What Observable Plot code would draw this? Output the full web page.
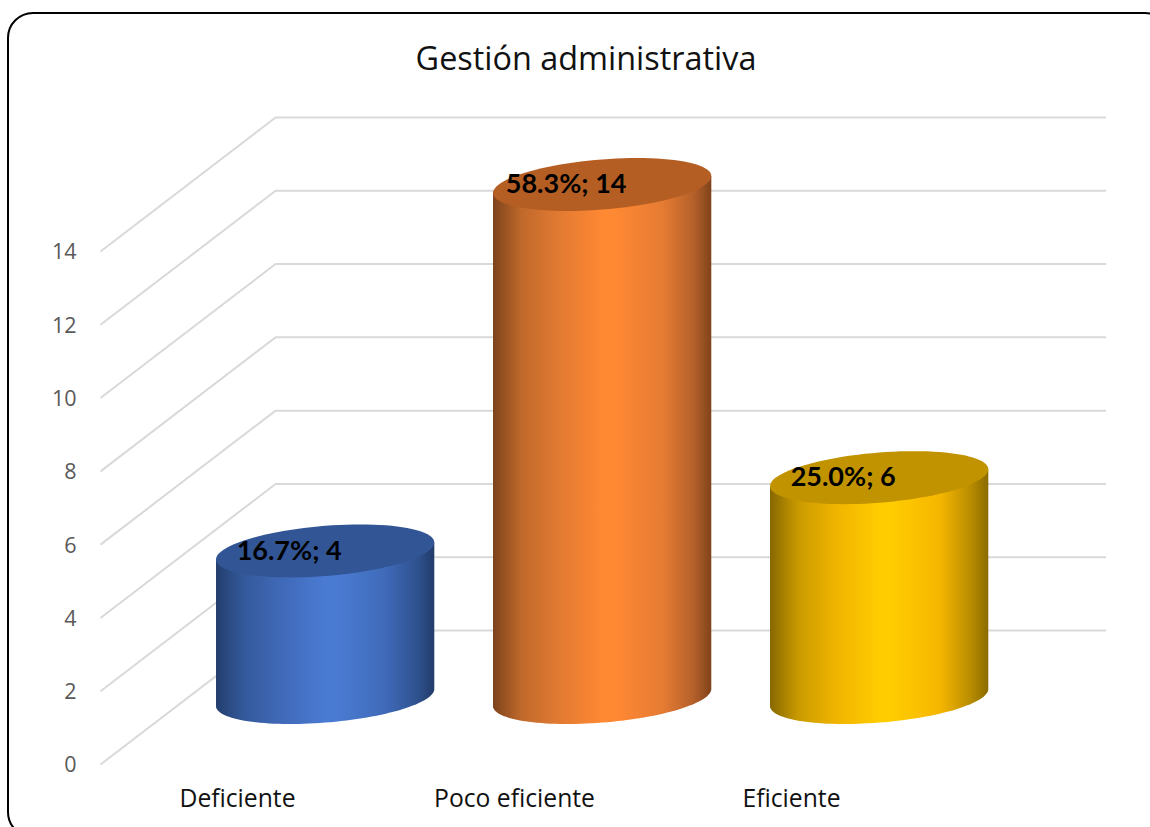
<!DOCTYPE html>
<html lang="es">
<head>
<meta charset="utf-8">
<title>Gestión administrativa</title>
<script src="https://cdn.jsdelivr.net/npm/d3@7"></script>
<script src="https://cdn.jsdelivr.net/npm/@observablehq/plot@0.6"></script>
<style>
  html, body { margin: 0; padding: 0; background: #fff; overflow: hidden; }
  #page { position: relative; width: 1150px; height: 827px; overflow: hidden; font-family: "Open Sans", sans-serif; }
  #frame { position: absolute; left: 7px; top: 12px; width: 1160px; height: 822px; border: 2px solid #000; border-radius: 26px; }
  #title { position: absolute; left: 0; width: 1172px; top: 36px; margin: 0; text-align: center; font-size: 32.4px; line-height: 42px; font-weight: 400; color: #111; }
  #chart { position: absolute; left: 0; top: 0; }
</style>
</head>
<body>
<div id="page">
  <div id="frame"></div>
  <h1 id="title">Gestión administrativa</h1>
  <div id="chart"></div>
</div>
<script>
// Survey results
const categories = ["Deficiente", "Poco eficiente", "Eficiente"];
const counts = [4, 14, 6];
const axisTicks = [0, 2, 4, 6, 8, 10, 12, 14];

// Fill colours per category: lid colour and horizontal shading of the wall
const lidColors = ["#325596", "#b55e24", "#c29300"];
const wallStops = [
  [[0, "#233e6e"], [0.13, "#345a9c"], [0.3, "#4069b8"], [0.5, "#4a7bd2"], [0.56, "#4a7bd2"], [0.78, "#3f6ab8"], [0.92, "#2f5290"], [1, "#223c69"]],
  [[0, "#7d431b"], [0.13, "#c0692b"], [0.3, "#e17a32"], [0.5, "#ff8833"], [0.56, "#ff8833"], [0.78, "#e57b33"], [0.92, "#b4602a"], [1, "#7f431a"]],
  [[0, "#876800"], [0.13, "#c99a00"], [0.3, "#f0b400"], [0.5, "#ffcc00"], [0.56, "#ffcc00"], [0.78, "#f5b600"], [0.92, "#b88c00"], [1, "#8a6b00"]]
];

// Oblique projection, in data units: the back wall sits this far right (x) and up (y)
const depthX = 0.632;
const depthY = 3.657;

// Cylinder cross-section, in data units: half width, half height and tilt
const radiusX = 0.394;
const radiusY = 0.685;
const tilt = 0.232;

const total = d3.sum(counts);
const pct = d3.format(".1%");
const valueLabels = counts.map((c) => `${pct(c / total)}; ${c}`);

const centerX = (i) => i + 0.495 + depthX / 2;
const ellipsePoint = (cx, cy, t) => ({
  x: cx + radiusX * Math.cos(t),
  y: cy + radiusY * Math.sin(t) + tilt * Math.cos(t)
});

// Closed outline of the lid
const lidOutline = (i) => {
  const cy = depthY / 2 + counts[i];
  return d3.range(0, 97).map((s) => ellipsePoint(centerX(i), cy, (s / 96) * 2 * Math.PI));
};

// Wall outline: the two top corners, then the lower arc of the base
const wallOutline = (i) => {
  const cx = centerX(i);
  const floorY = depthY / 2;
  const arc = d3.range(0, 65).map((s) => ellipsePoint(cx, floorY, -(s / 64) * Math.PI));
  return [
    ellipsePoint(cx, floorY + counts[i], 0),
    ...arc,
    ellipsePoint(cx, floorY + counts[i], -Math.PI)
  ];
};

// Gradient definitions used by the cylinder walls
const gradients = () => {
  const defs = d3.create("svg:defs");
  wallStops.forEach((stops, i) => {
    const g = defs.append("linearGradient").attr("id", `wall-${i}`);
    stops.forEach(([o, c]) => g.append("stop").attr("offset", o).attr("stop-color", c));
  });
  return defs.node();
};

const gridStyle = { stroke: "#d9d9d9", strokeWidth: 2 };

const chart = Plot.plot({
  width: 1150,
  height: 827,
  marginLeft: 100,
  marginRight: 219,
  marginTop: 251,
  marginBottom: 63,
  style: { background: "transparent", fontFamily: "'Open Sans', sans-serif", overflow: "hidden" },
  x: { domain: [0, 3] },
  y: { domain: [0, 14] },
  marks: [
    gradients,
    // Back wall and side wall gridlines
    Plot.ruleY(axisTicks, { y: (d) => d + depthY, x1: depthX, x2: 3 + depthX, ...gridStyle }),
    Plot.link(axisTicks, { x1: 0, x2: depthX, y1: (d) => d, y2: (d) => d + depthY, ...gridStyle }),
    Plot.axisY(axisTicks, { tickSize: 0, tickPadding: 24, fontSize: 21.5, dy: 1, color: "#595959", label: null }),
    Plot.axisX([0.5, 1.5, 2.5], {
      tickSize: 0, tickPadding: 25, fontSize: 24.7, dx: -1.5, color: "#111", label: null,
      tickFormat: (d) => categories[Math.floor(d)]
    }),
    // Cylinders
    ...categories.flatMap((c, i) => [
      Plot.line(wallOutline(i), { x: "x", y: "y", stroke: "none", fill: `url(#wall-${i})`, curve: "linear" }),
      Plot.line(lidOutline(i), { x: "x", y: "y", stroke: "none", fill: lidColors[i], curve: "linear" })
    ]),
    // Value labels on the lids
    ...categories.map((c, i) =>
      Plot.text([valueLabels[i]], {
        x: centerX(i),
        y: depthY / 2 + counts[i],
        text: (d) => d,
        dx: -36,
        fontSize: 27,
        fontWeight: 700,
        fontFamily: "Lato, sans-serif",
        fill: "#000"
      })
    )
  ]
});

document.getElementById("chart").appendChild(chart);
</script>
</body>
</html>
